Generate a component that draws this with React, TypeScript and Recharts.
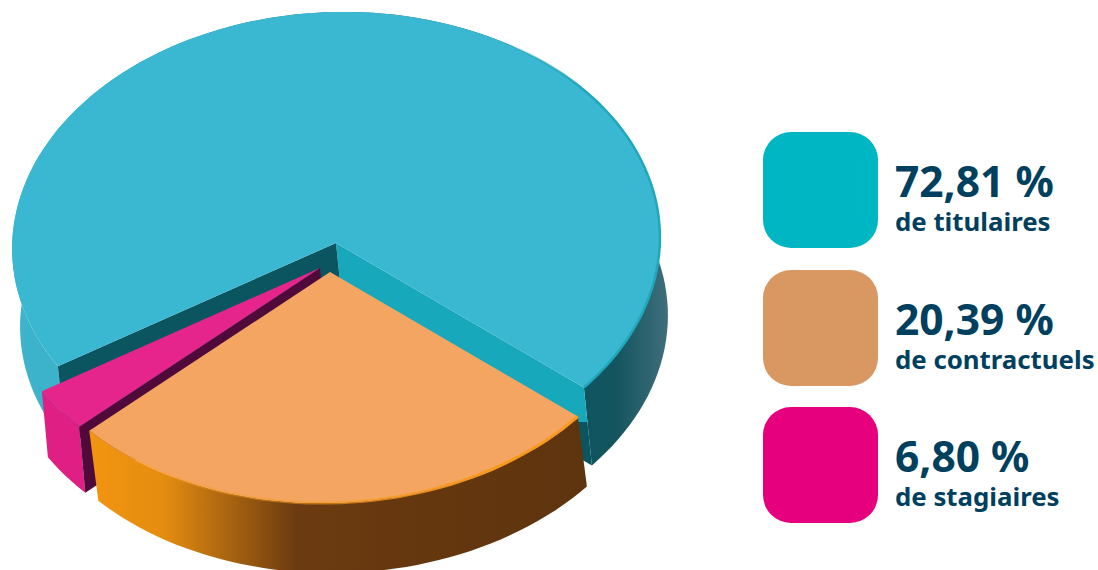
import React from 'react';
import { PieChart, Pie } from 'recharts';

// Printed legend, as it reads on the picture
const legendColors = ['#00b6c3', '#d99762', '#e6007e'];
const legendValues = ['72,81 %', '20,39 %', '6,80 %'];
const legendLabels = ['de titulaires', 'de contractuels', 'de stagiaires'];

// Share of the disc each wedge really takes in the artwork (measured on the picture).
// The drawing is not to scale with the printed percentages above.
const sliceNames = ['titulaires', 'stagiaires', 'contractuels'];
const sliceShares = [69.7, 3.1, 27.2];

const pieData = sliceNames.map((name, i) => ({ name, value: sliceShares[i] }));

const FLATTEN = 231 / 324;
const TILT = (-2 * Math.PI) / 180;

type SliceLook = {
  top: string;
  rim: string;
  rimWidth: number;
  wall: string;
  cutStart: string | null; // null: the face looks away from the viewer
  cutEnd: string | null;
  shiftX: number;
  shiftY: number;
  depthX: number;
  depthY: number;
};

const looks: Record<string, SliceLook> = {
  titulaires: { top: '#3ab7d1', rim: 'url(#rimTeal)', rimWidth: 2.5, wall: 'url(#wallTeal)', cutStart: 'url(#cutTeal)', cutEnd: '#0b5561', shiftX: 0, shiftY: 0, depthX: 8, depthY: 78 },
  stagiaires: { top: '#e6258c', rim: 'none', rimWidth: 0, wall: '#e01f84', cutStart: null, cutEnd: '#4f0a3a', shiftX: -16, shiftY: 25, depthX: 6, depthY: 66 },
  contractuels: { top: '#f4a561', rim: 'url(#rimOrange)', rimWidth: 3, wall: 'url(#wallOrange)', cutStart: null, cutEnd: null, shiftX: -6, shiftY: 29, depthX: 9, depthY: 70 },
};

function project(cx: number, cy: number, r: number, deg: number) {
  const a = (deg * Math.PI) / 180;
  const x = r * Math.cos(a);
  const y = -r * FLATTEN * Math.sin(a);
  return {
    x: cx + x * Math.cos(TILT) - y * Math.sin(TILT),
    y: cy + x * Math.sin(TILT) + y * Math.cos(TILT),
  };
}

function toPath(points: { x: number; y: number }[], close = true) {
  const d = points.map((p, i) => `${i ? 'L' : 'M'}${p.x.toFixed(1)},${p.y.toFixed(1)}`).join(' ');
  return close ? `${d} Z` : d;
}

// Flattened disc wedge with its thickness: outer wall, two cut faces, top face
function Wedge(props: any) {
  const { cx, cy, outerRadius, startAngle, endAngle, name } = props;
  const look = looks[name];
  const ox = cx + look.shiftX;
  const oy = cy + look.shiftY;
  const arc: { x: number; y: number }[] = [];
  const steps = Math.max(4, Math.ceil(Math.abs(endAngle - startAngle) / 2));
  for (let i = 0; i <= steps; i++) {
    arc.push(project(ox, oy, outerRadius, startAngle + ((endAngle - startAngle) * i) / steps));
  }
  const down = (p: { x: number; y: number }) => ({ x: p.x + look.depthX, y: p.y + look.depthY });
  const apex = { x: ox, y: oy };
  const first = arc[0];
  const last = arc[arc.length - 1];
  return (
    <g>
      <path d={toPath([...arc, ...arc.map(down).reverse()])} fill={look.wall} />
      {look.cutStart && <path d={toPath([apex, first, down(first), down(apex)])} fill={look.cutStart} />}
      {look.cutEnd && <path d={toPath([apex, last, down(last), down(apex)])} fill={look.cutEnd} />}
      <path d={toPath([apex, ...arc])} fill={look.top} />
      {look.rimWidth > 0 && <path d={toPath(arc, false)} fill="none" stroke={look.rim} strokeWidth={look.rimWidth} />}
    </g>
  );
}

export default function App() {
  return (
    <div style={{ position: 'absolute', left: 0, top: 0, width: 1098, height: 570, overflow: 'hidden', background: '#fff' }}>
      <PieChart width={1098} height={570} margin={{ top: 0, right: 0, bottom: 0, left: 0 }}>
        <defs>
          <linearGradient id="wallTeal" gradientUnits="userSpaceOnUse" x1="12" y1="0" x2="669" y2="0">
            <stop offset="0" stopColor="#3fb4cc" />
            <stop offset="0.1" stopColor="#3ab2ca" />
            <stop offset="0.84" stopColor="#0a5560" />
            <stop offset="0.92" stopColor="#14555f" />
            <stop offset="1" stopColor="#3f6f7c" />
          </linearGradient>
          <linearGradient id="cutTeal" gradientUnits="userSpaceOnUse" x1="0" y1="0" x2="0" y2="570">
            <stop offset="0.74" stopColor="#17a9bb" />
            <stop offset="0.74" stopColor="#0a5560" />
          </linearGradient>
          <linearGradient id="rimTeal" gradientUnits="userSpaceOnUse" x1="500" y1="0" x2="660" y2="0">
            <stop offset="0" stopColor="#1fa7bd" stopOpacity="0" />
            <stop offset="0.5" stopColor="#1fa7bd" stopOpacity="1" />
            <stop offset="1" stopColor="#1fa7bd" stopOpacity="1" />
          </linearGradient>
          <linearGradient id="wallOrange" gradientUnits="userSpaceOnUse" x1="88" y1="0" x2="585" y2="0">
            <stop offset="0" stopColor="#f29510" />
            <stop offset="0.15" stopColor="#e58d10" />
            <stop offset="0.42" stopColor="#6b3a10" />
            <stop offset="1" stopColor="#5e340e" />
          </linearGradient>
          <linearGradient id="rimOrange" gradientUnits="userSpaceOnUse" x1="88" y1="0" x2="585" y2="0">
            <stop offset="0" stopColor="#f7981f" stopOpacity="0.2" />
            <stop offset="0.4" stopColor="#f7981f" stopOpacity="0.5" />
            <stop offset="0.8" stopColor="#f7981f" stopOpacity="1" />
            <stop offset="1" stopColor="#f7981f" stopOpacity="1" />
          </linearGradient>
        </defs>
        <Pie
          data={pieData}
          dataKey="value"
          nameKey="name"
          cx={336}
          cy={243}
          innerRadius={0}
          outerRadius={324}
          startAngle={-41.5}
          endAngle={318.5}
          paddingAngle={0}
          stroke="none"
          isAnimationActive={false}
          shape={Wedge}
        />
      </PieChart>

      {/* Legend */}
      {legendValues.map((value, i) => (
        <div key={value} style={{ position: 'absolute', left: 763, top: 132 + i * 137.5, width: 335, height: 116 }}>
          <div style={{ position: 'absolute', left: 0, top: 0, width: 115, height: 116, borderRadius: 28, background: legendColors[i] }} />
          <div style={{ position: 'absolute', left: 132, top: 27, fontFamily: '"Noto Sans"', fontWeight: 700, fontSize: 42.5, lineHeight: '44px', color: '#00405f', whiteSpace: 'nowrap' }}>
            {value}
          </div>
          <div style={{ position: 'absolute', left: 132, top: 74, fontFamily: '"Noto Sans"', fontWeight: 700, fontSize: 25.8, lineHeight: '30px', color: '#00405f', whiteSpace: 'nowrap' }}>
            {legendLabels[i]}
          </div>
        </div>
      ))}
    </div>
  );
}
